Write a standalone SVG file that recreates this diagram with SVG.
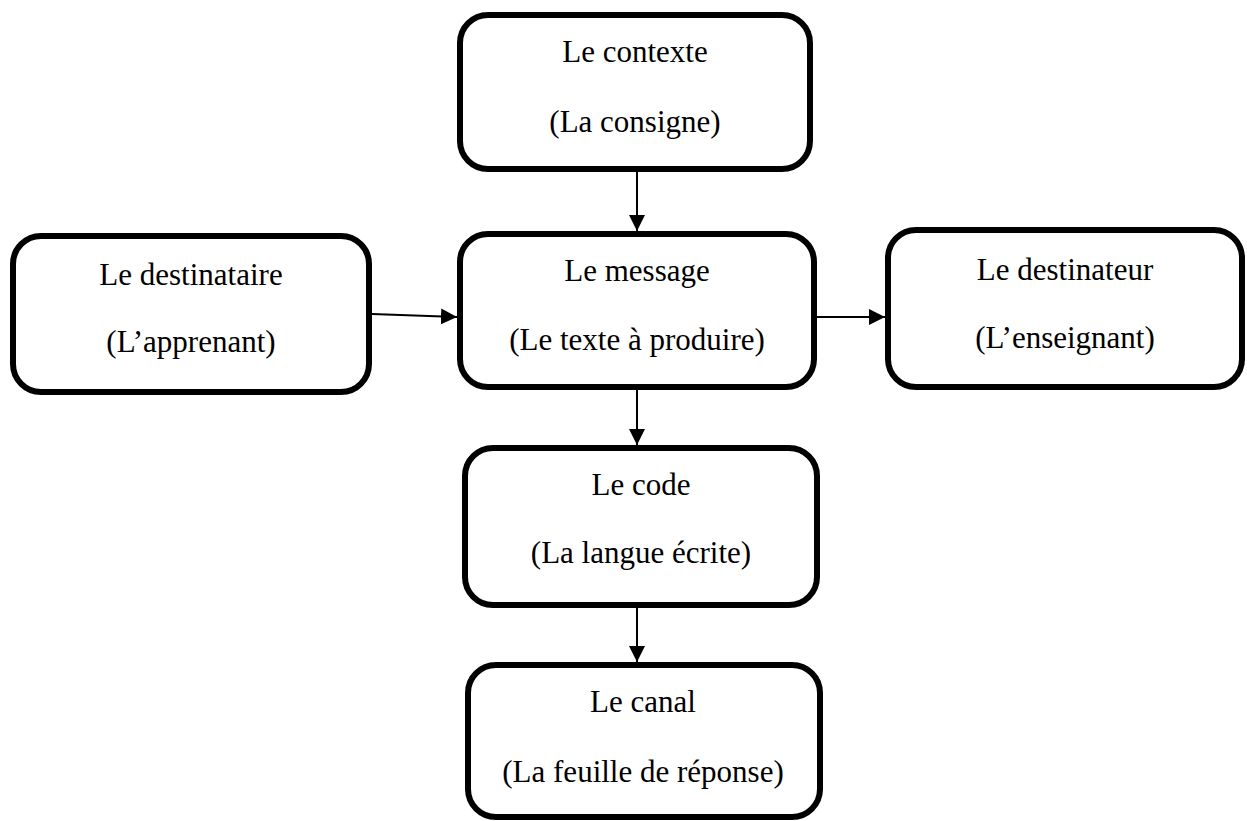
<svg xmlns="http://www.w3.org/2000/svg" width="1247" height="821" viewBox="0 0 1247 821">
<defs>
<marker id="arr" markerUnits="userSpaceOnUse" markerWidth="16" markerHeight="16" viewBox="0 0 16 16" refX="16" refY="8" orient="auto">
<path d="M0,0 L16,8 L0,16 Z" fill="#000"/>
</marker>
</defs>
<style>
.box{fill:#fff;stroke:#000;stroke-width:6}
.t{font-family:"Liberation Serif","Times New Roman",serif;font-size:31px;fill:#000;text-anchor:middle}
.c{stroke:#000;stroke-width:2;fill:none;marker-end:url(#arr)}
</style>
<rect width="1247" height="821" fill="#fff"/>
<g id="connectors">
<line class="c" x1="637" y1="172" x2="637" y2="231"/>
<line class="c" x1="372" y1="314" x2="457" y2="317"/>
<line class="c" x1="817" y1="317" x2="885" y2="317"/>
<line class="c" x1="637" y1="390" x2="637" y2="445"/>
<line class="c" x1="637" y1="608" x2="637" y2="662"/>
</g>
<g id="contexte">
<rect class="box" x="460" y="15" width="350" height="154" rx="28"/>
<text class="t" x="635" y="62">Le contexte</text>
<text class="t" x="635" y="132">(La consigne)</text>
</g>
<g id="message">
<rect class="box" x="460" y="234" width="354" height="153" rx="28"/>
<text class="t" x="637" y="281">Le message</text>
<text class="t" x="637" y="350">(Le texte à produire)</text>
</g>
<g id="destinataire">
<rect class="box" x="13" y="236" width="356" height="156" rx="28"/>
<text class="t" x="191" y="285">Le destinataire</text>
<text class="t" x="191" y="352">(L’apprenant)</text>
</g>
<g id="destinateur">
<rect class="box" x="888" y="230" width="354" height="157" rx="28"/>
<text class="t" x="1065" y="280">Le destinateur</text>
<text class="t" x="1065" y="348">(L’enseignant)</text>
</g>
<g id="code">
<rect class="box" x="465" y="448" width="352" height="157" rx="28"/>
<text class="t" x="641" y="495">Le code</text>
<text class="t" x="641" y="563">(La langue écrite)</text>
</g>
<g id="canal">
<rect class="box" x="468" y="665" width="352" height="152" rx="28"/>
<text class="t" x="643" y="712">Le canal</text>
<text class="t" x="643" y="782">(La feuille de réponse)</text>
</g>
</svg>
